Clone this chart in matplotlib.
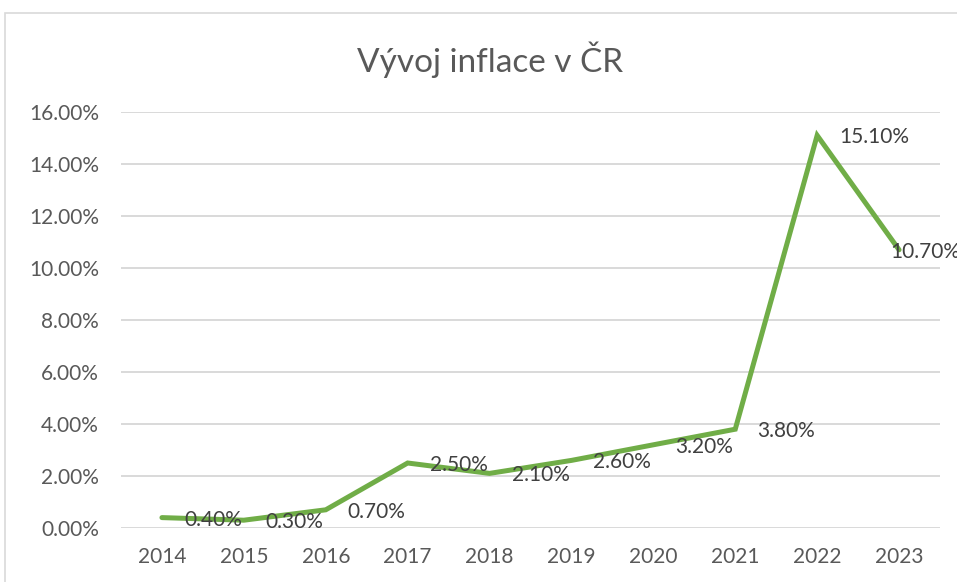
import matplotlib.pyplot as plt
from matplotlib.patches import Rectangle
from matplotlib.ticker import FuncFormatter

years = ["2014", "2015", "2016", "2017", "2018", "2019", "2020", "2021", "2022", "2023"]
inflation = [0.4, 0.3, 0.7, 2.5, 2.1, 2.6, 3.2, 3.8, 15.1, 10.7]

plt.rcParams["font.family"] = ["Lato", "DejaVu Sans"]

fig = plt.figure(figsize=(9.57, 5.82), dpi=100)
ax = fig.add_axes([121 / 957, 1 - 528 / 582, 819 / 957, 416 / 582])

# chart frame like the Excel chart area (cropped at right and bottom)
fig.patches.append(Rectangle((5 / 957, -0.1), 2, 1.1 - 13 / 582,
                             transform=fig.transFigure, fill=False,
                             edgecolor="#D9D9D9", linewidth=1.2))

x = list(range(len(years)))
ax.plot(x, inflation, color="#70AD47", linewidth=3.6, solid_capstyle="round",
        solid_joinstyle="miter", zorder=3)

for i, v in enumerate(inflation):
    dx = 22 if i < len(years) - 1 else -9
    ax.annotate(f"{v:.2f}%", (i, v), xytext=(dx, -2), textcoords="offset pixels",
                ha="left", va="center", fontsize=15, color="#404040",
                annotation_clip=False, zorder=4)

ax.set_xlim(-0.5, 9.5)
ax.set_ylim(0, 16)
ax.set_yticks(range(0, 17, 2))
ax.yaxis.set_major_formatter(FuncFormatter(lambda v, p: f"{v:.2f}%"))
ax.set_xticks(x)
ax.set_xticklabels(years)

ax.grid(axis="y", color="#D9D9D9", linewidth=1.4)
ax.set_axisbelow(True)
for s in ["top", "right", "left", "bottom"]:
    ax.spines[s].set_visible(False)
ax.tick_params(axis="both", length=0, labelsize=15, colors="#595959")
ax.tick_params(axis="y", pad=16)
ax.tick_params(axis="x", pad=14)

fig.text(490 / 957, 1 - 60 / 582, "Vývoj inflace v ČR", ha="center", va="center",
         fontsize=24, fontweight="normal", color="#595959")

fig.savefig("out.png", dpi=100)
